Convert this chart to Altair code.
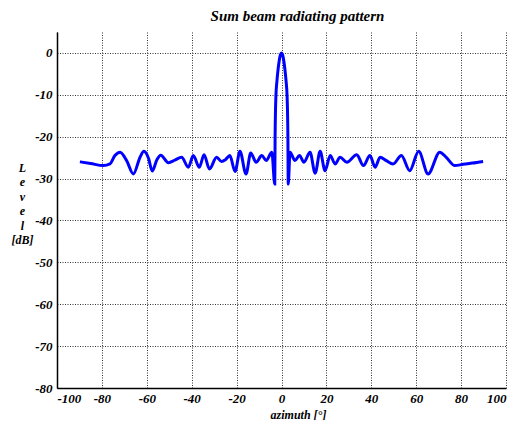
import altair as alt
import pandas as pd

azimuth = [
    -89.8, -85.0, -79.4, -76.4, -74.2, -71.9, -69.0, -66.0, -63.0, -61.3,
    -59.2, -57.6, -55.5, -53.8, -50.4, -47.5, -44.5, -41.5, -39.3, -36.6,
    -34.5, -32.1, -28.9, -26.7, -25.0, -23.0, -20.7, -18.5, -15.8, -13.7,
    -11.3, -8.8, -6.8, -4.3, -3.0, -2.85, -2.5, -2.0, -1.5, -1.0,
    -0.5, 0.0, 0.5, 1.0, 1.5, 2.0, 2.5, 2.85, 3.0, 3.8,
    6.0, 8.0, 10.0, 12.7, 15.0, 17.2, 19.4, 21.7, 23.9, 26.1,
    29.1, 33.5, 36.5, 39.4, 41.7, 43.9, 46.7, 49.7, 53.4, 57.1,
    61.1, 65.3, 70.5, 73.5, 77.2, 80.9, 85.0, 89.8,
]
level = [
    -26.0, -26.4, -26.9, -26.5, -24.5, -23.7, -25.7, -28.9, -24.9, -23.5,
    -25.2, -28.2, -25.5, -24.4, -26.2, -25.6, -24.9, -27.3, -24.5, -27.3,
    -24.3, -27.7, -24.9, -25.9, -25.5, -24.5, -28.3, -23.5, -28.9, -23.9,
    -26.1, -24.5, -25.7, -23.7, -31.3, -20.0, -10.5, -6.5, -3.8, -1.8,
    -0.5, 0.0, -0.5, -1.8, -3.8, -6.5, -10.5, -20.0, -31.3, -23.7,
    -25.7, -24.5, -26.1, -23.7, -28.7, -23.5, -28.1, -24.5, -26.5, -24.9,
    -26.1, -24.3, -26.9, -24.5, -27.3, -24.9, -25.7, -26.5, -24.5, -28.1,
    -23.5, -28.9, -23.7, -25.0, -26.9, -26.6, -26.3, -25.9,
]

x_ticks = [-100, -80, -60, -40, -20, 0, 20, 40, 60, 80, 100]
y_ticks = [-80, -70, -60, -50, -40, -30, -20, -10, 0]

df = pd.DataFrame({"azimuth": azimuth, "level": level})

FONT = "Liberation Serif"

chart = (
    alt.Chart(df)
    .mark_line(color="#0000FF", strokeWidth=3, interpolate="monotone")
    .encode(
        x=alt.X(
            "azimuth:Q",
            scale=alt.Scale(domain=[-100, 100], nice=False, zero=False),
            axis=alt.Axis(
                values=x_ticks,
                labelExpr="'' + datum.value",
                title="azimuth [°]",
                titleX=241,
                titleY=26,
                titleBaseline="middle",
                ticks=False,
                labelPadding=4,
            ),
        ),
        y=alt.Y(
            "level:Q",
            scale=alt.Scale(domain=[-80, 5], nice=False, zero=False),
            axis=alt.Axis(
                values=y_ticks,
                labelExpr="'' + datum.value",
                title=["L", "e", "v", "e", "l", "[dB]"],
                titleAngle=0,
                titleAlign="center",
                titleBaseline="middle",
                titleX=-35,
                titleY=135,
                titleLineHeight=14.5,
                ticks=False,
                labelPadding=5,
            ),
        ),
    )
    .properties(
        width=449,
        height=356,
        autosize="none",
        padding={"left": 49, "top": 24, "right": 12, "bottom": 32},
        title=alt.TitleParams(
            "Sum beam radiating pattern",
            anchor="middle",
            dx=16,
            offset=8,
            font=FONT,
            fontSize=15,
            fontWeight="bold",
            fontStyle="italic",
            color="#000000",
        ),
    )
    .configure_view(stroke=None)
    .configure_axis(
        labelFont=FONT,
        labelFontSize=13,
        labelFontWeight="bold",
        labelFontStyle="italic",
        labelColor="#000000",
        titleFont=FONT,
        titleFontSize=12,
        titleFontWeight="bold",
        titleFontStyle="italic",
        titleColor="#000000",
        domainColor="#000000",
        domainWidth=1.5,
        gridColor="#333333",
        gridDash=[1, 1.5],
        gridWidth=1,
        gridOpacity=1,
    )
)

chart.save("out.html", embed_options={"renderer": "svg", "actions": False})
